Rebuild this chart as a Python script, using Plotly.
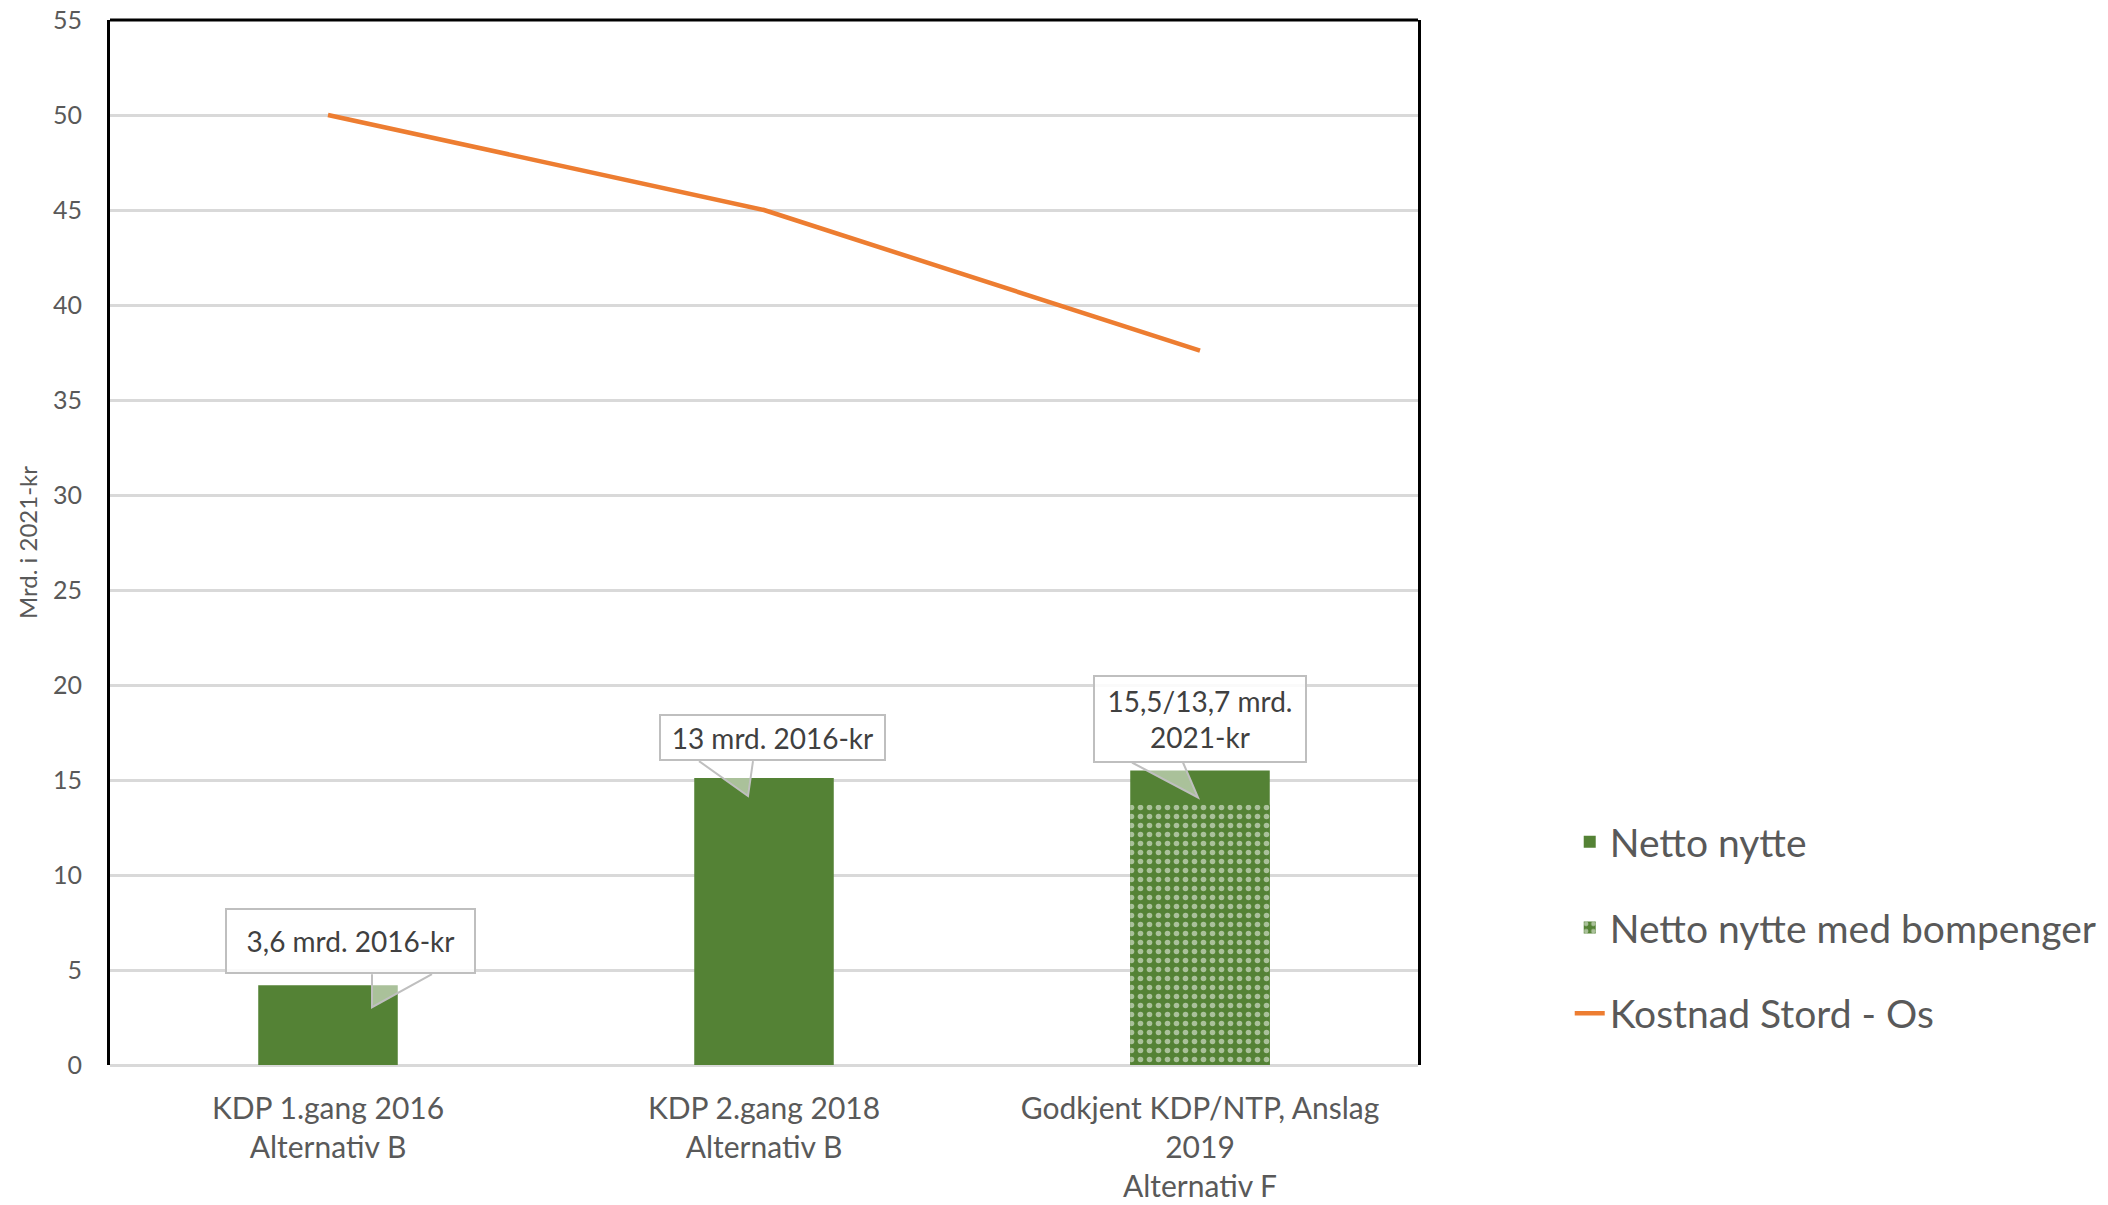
import plotly.graph_objects as go

# ---- data ----
categories = ["KDP 1.gang 2016<br>Alternativ B",
              "KDP 2.gang 2018<br>Alternativ B",
              "Godkjent KDP/NTP, Anslag<br>2019<br>Alternativ F"]
netto_nytte = [4.2, 15.1, 15.5]
netto_nytte_bompenger = [None, None, 13.7]
kostnad_stord_os = [50, 45, 37.6]
y_ticks = [0, 5, 10, 15, 20, 25, 30, 35, 40, 45, 50, 55]
callout_texts = ["3,6 mrd. 2016-kr", "13 mrd. 2016-kr", "15,5/13,7 mrd.<br>2021-kr"]

GREEN = "#548235"
ORANGE = "#ED7D31"
GRID = "#D9D9D9"
FONT = "Lato"

fig = go.Figure()
fig.add_trace(go.Bar(x=categories, y=netto_nytte, name="Netto nytte",
                     marker=dict(color=GREEN, line=dict(width=0)),
                     legendgroup="a"))
fig.add_trace(go.Bar(x=categories, y=netto_nytte_bompenger, name="Netto nytte med bompenger",
                     marker=dict(color=GREEN, line=dict(width=0),
                                 pattern=dict(shape=".", fgcolor="white", bgcolor=GREEN,
                                              size=9, solidity=0.3)),
                     legendgroup="b"))
fig.add_trace(go.Scatter(x=categories, y=kostnad_stord_os, name="Kostnad Stord - Os",
                         mode="lines", line=dict(color=ORANGE, width=4.5),
                         legendgroup="c"))

# callouts: (box x-shift px, box gap above bar px, box w, box h, wedge base a, base b, tip) in px
callout_geom = [
    dict(xs=22, gap=11, w=251, h=66, a=(44, 11), b=(104, 11), tip=(44, -22)),
    dict(xs=8, gap=17, w=227, h=47, a=(-65, 17), b=(-11, 17), tip=(-16, -18)),
    dict(xs=0, gap=8, w=214, h=88, a=(-68, 8), b=(-17, 8), tip=(-2, -27)),
]
for cat, val, txt, g in zip(categories, netto_nytte, callout_texts, callout_geom):
    fig.add_annotation(x=cat, y=val, xref="x", yref="y", text=txt, showarrow=False,
                       xanchor="center", yanchor="bottom", xshift=g["xs"], yshift=g["gap"],
                       width=g["w"] - 4, height=g["h"] - 4, borderwidth=2, borderpad=0,
                       bordercolor="#BFBFBF", bgcolor="rgba(255,255,255,0.85)",
                       font=dict(family=FONT, size=28, color="#404040"))
    (ax, ay), (bx, by), (tx, ty) = g["a"], g["b"], g["tip"]
    fig.add_shape(type="path", xref="x", yref="y", xsizemode="pixel", ysizemode="pixel",
                  xanchor=cat, yanchor=val,
                  path=f"M{ax},{ay} L{tx},{ty} L{bx},{by}",
                  fillcolor="rgba(255,255,255,0.5)", line=dict(color="#BFBFBF", width=2),
                  layer="above")

# top frame line
fig.add_shape(type="line", xref="paper", yref="paper", x0=0, x1=1, y0=1, y1=1,
              line=dict(color="black", width=3), layer="above")

fig.update_layout(
    width=2108, height=1205,
    margin=dict(l=110, r=690, t=20, b=140, autoexpand=False),
    paper_bgcolor="white", plot_bgcolor="white",
    barmode="overlay", bargap=0.68,
    font=dict(family=FONT, color="#595959"),
    legend=dict(x=1.116, y=0.244, xanchor="left", yanchor="top",
                font=dict(family=FONT, size=39, color="#595959"),
                tracegroupgap=32, traceorder="grouped", bgcolor="rgba(0,0,0,0)"),
)
fig.update_xaxes(type="category", showgrid=False, showline=False, ticks="",
                 tickfont=dict(family=FONT, size=30, color="#595959"),
                 ticklabelstandoff=23, automargin=False, ticklabeloverflow="allow")
fig.update_yaxes(range=[0, 55], tickvals=y_ticks, showgrid=True, gridcolor=GRID, gridwidth=3,
                 zeroline=True, zerolinecolor=GRID, zerolinewidth=3,
                 showline=True, mirror=True, linecolor="black", linewidth=3, ticks="",
                 tickfont=dict(family=FONT, size=25, color="#595959"),
                 ticklabelstandoff=20, automargin=False, ticklabeloverflow="allow",
                 title=dict(text="Mrd. i 2021-kr", font=dict(family=FONT, size=24, color="#595959"),
                            standoff=9))

fig.write_html("out.html", config={"displayModeBar": False},
               post_script="document.body.style.margin='0';document.body.style.overflow='hidden';")
